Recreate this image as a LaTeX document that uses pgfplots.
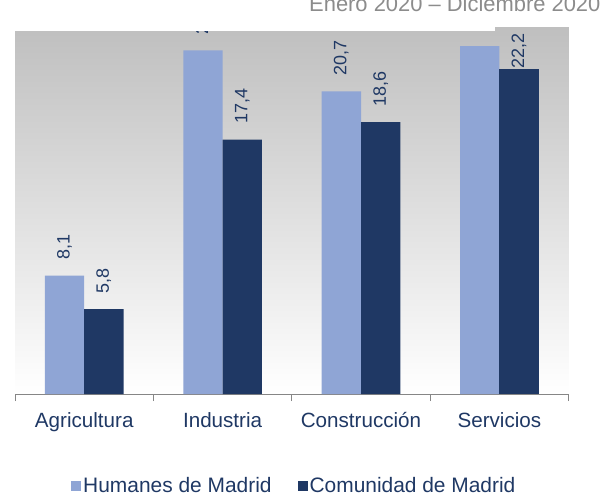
\documentclass[border=0pt]{standalone}
\usepackage{pgfplots}
\pgfplotsset{compat=1.18}
\usepackage{fontspec}
\setmainfont{Liberation Sans}
\definecolor{lightbar}{RGB}{143,165,213}
\definecolor{darkbar}{RGB}{31,56,100}
\definecolor{txt}{RGB}{31,56,100}
\definecolor{axgray}{RGB}{134,134,134}
\definecolor{bggray}{RGB}{191,191,191}
\definecolor{bgmid}{RGB}{214,214,214}
\definecolor{titlegray}{RGB}{140,140,140}
\begin{document}
\begin{tikzpicture}
\begin{axis}[
  at={(0,0)}, anchor=south west,
  x=138.4bp, y=14.62bp,
  xmin=-0.5, xmax=3.5, ymin=0, ymax=25.12,
  ybar, bar width=39.3bp,
  axis x line*=bottom, axis y line=none,
  axis line style={axgray, line width=1bp},
  xtick={0,1,2,3},
  xticklabels={Agricultura,Industria,Construcción,Servicios},
  major x tick style={draw=none},
  minor xtick={-0.5,0.5,1.5,2.5,3.5},
  minor tick length=7bp,
  tick align=outside,
  minor x tick style={axgray, line width=1bp},
  xticklabel style={font=\fontsize{20.7}{24}\selectfont, text=txt, yshift=-11bp},
  axis background/.style={top color=bggray, middle color=bgmid, bottom color=white},
  /pgf/number format/.cd, use comma, fixed, fixed zerofill, precision=1, assume math mode=true,
  /pgfplots/.cd,
  nodes near coords={\pgfmathprintnumber{\pgfplotspointmeta}},
  every node near coord/.append style={rotate=90, anchor=west,
     font=\fontsize{18}{20}\selectfont, text=txt, inner xsep=16bp, outer sep=0pt},
  legend columns=2,
  legend style={draw=none, fill=none, inner sep=0pt,
     at={(0.1012,-0.2497)}, anchor=west,
     font=\fontsize{21}{24}\selectfont, text=txt,
     /tikz/every even column/.append style={column sep=24bp}},
  legend image code/.code={\fill[#1, draw=none] (0bp,-5bp) rectangle (10bp,5bp);},
]
\addplot[fill=lightbar, draw=none, bar shift=-19.65bp] coordinates {(0,8.1) (1,23.5) (2,20.7) (3,23.8)};
\addplot[fill=darkbar, draw=none, bar shift=19.65bp] coordinates {(0,5.8) (1,17.4) (2,18.6)};
\addplot[fill=darkbar, draw=none, bar shift=19.65bp, forget plot,
   every node near coord/.append style={inner xsep=1bp}] coordinates {(3,22.2)};
\legend{Humanes de Madrid, Comunidad de Madrid}
\end{axis}
\fill[white] (-15bp,363bp) rectangle (480bp,420bp);
\fill[white] (-15bp,367.3bp) rectangle (600bp,420bp);
\node[anchor=base west, inner sep=0pt, text=titlegray, font=\fontsize{22}{24}\selectfont] at (294bp,382bp) {Enero 2020 -- Diciembre 2020};
\pgfresetboundingbox
\path[use as bounding box] (-15bp,-101bp) rectangle (600bp,394bp);
\end{tikzpicture}
\end{document}
